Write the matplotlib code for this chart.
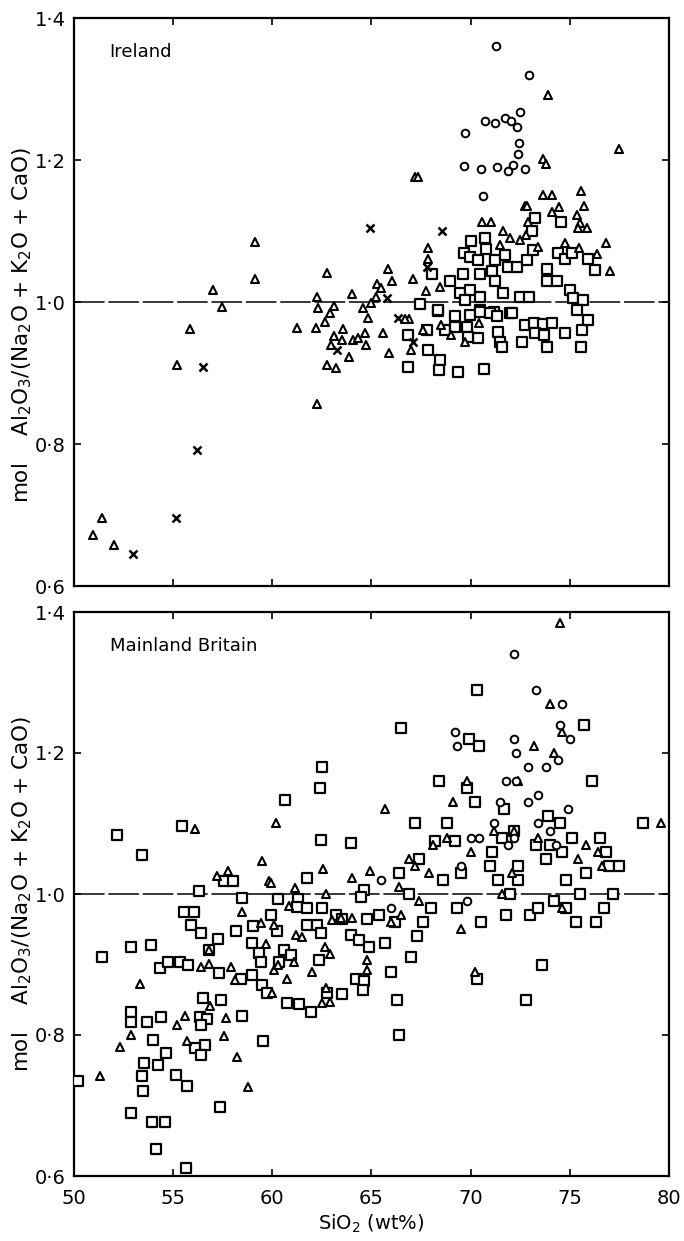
import matplotlib.pyplot as plt
from matplotlib.markers import MarkerStyle

# ---- Ireland ----
ire_tri_x = [62.74, 57.0, 59.13, 59.13, 57.45, 55.85, 55.18, 62.27, 51.40, 50.97, 52.03,
             61.23, 62.19, 62.27, 62.28, 63.11, 62.91, 62.66, 63.58, 63.11, 62.94, 63.50, 62.74,
             63.21, 63.85, 64.04, 64.09, 64.3, 64.67, 64.72, 64.59, 64.84, 64.96, 65.23, 65.26,
             73.88, 77.50, 73.66, 73.80, 67.2, 67.33, 73.66, 74.09, 75.56, 75.72, 72.74, 72.83,
             74.45, 74.12, 75.35, 70.56, 71.03, 75.51, 75.43, 75.88, 72.91, 71.65, 71.98, 72.49,
             72.77, 67.87, 67.83, 65.85, 66.02, 67.08, 68.46, 67.75, 76.81, 77.03, 76.35, 75.48,
             74.76, 73.41, 71.48, 65.5, 65.6, 65.9, 67.0, 67.6, 68.5, 69.0, 69.7, 70.4, 66.9, 66.7]
ire_tri_y = [1.041, 1.017, 1.032, 1.085, 0.993, 0.962, 0.911, 0.856, 0.696, 0.672, 0.658,
             0.964, 0.963, 1.007, 0.991, 0.994, 0.984, 0.972, 0.962, 0.952, 0.940, 0.946, 0.911,
             0.907, 0.922, 1.011, 0.946, 0.950, 0.957, 0.939, 0.991, 0.977, 0.998, 1.007, 1.026,
             1.292, 1.216, 1.202, 1.194, 1.176, 1.176, 1.151, 1.151, 1.157, 1.135, 1.135, 1.135,
             1.134, 1.127, 1.123, 1.113, 1.113, 1.111, 1.104, 1.104, 1.112, 1.100, 1.090, 1.087,
             1.094, 1.076, 1.060, 1.046, 1.030, 1.033, 1.021, 1.015, 1.083, 1.044, 1.068, 1.076,
             1.083, 1.078, 1.080, 1.020, 0.957, 0.928, 0.933, 0.960, 0.967, 0.953, 0.943, 0.970, 0.976, 0.976]

ire_sq_x = [73.24, 73.08, 74.54, 70.02, 70.72, 69.67, 69.97, 70.77, 70.39, 71.23, 69.63, 70.47,
            68.96, 68.04, 71.06, 71.23, 71.90, 72.32, 72.82, 71.73, 73.16, 74.42, 74.76, 75.09,
            75.93, 76.27, 73.83, 73.83, 74.34, 75.01, 75.18, 75.68, 75.35, 69.46, 69.97, 70.47,
            69.72, 71.65, 72.49, 72.96, 67.45, 68.37, 70.47, 71.19, 71.98,
            68.37, 69.21, 69.97, 70.47, 70.98, 71.31, 72.07, 72.74, 73.19, 73.66, 74.09, 73.24,
            73.72, 74.76, 75.60, 75.93, 66.86, 67.78, 68.71, 69.21, 69.83, 70.39, 69.88, 71.40,
            71.48, 71.56, 72.57, 73.83, 75.56, 67.87, 66.86, 68.46, 68.42, 69.38, 70.67]
ire_sq_y = [1.119, 1.100, 1.112, 1.086, 1.090, 1.069, 1.064, 1.075, 1.059, 1.059, 1.040, 1.040,
            1.030, 1.040, 1.043, 1.029, 1.050, 1.050, 1.059, 1.066, 1.073, 1.069, 1.061, 1.069,
            1.061, 1.045, 1.047, 1.029, 1.029, 1.017, 1.005, 1.003, 0.989, 1.012, 1.017, 1.007,
            1.003, 1.012, 1.007, 1.007, 0.997, 0.988, 0.989, 0.986, 0.984,
            0.989, 0.980, 0.982, 0.986, 0.984, 0.980, 0.984, 0.968, 0.970, 0.969, 0.970, 0.956,
            0.953, 0.957, 0.961, 0.975, 0.953, 0.960, 0.960, 0.965, 0.965, 0.949, 0.951, 0.958,
            0.944, 0.937, 0.944, 0.937, 0.936, 0.933, 0.909, 0.918, 0.904, 0.902, 0.906]

ire_circ_x = [71.3, 72.94, 72.49, 70.72, 71.23, 71.73, 72.02, 72.35, 69.72, 72.46, 72.40,
              69.67, 70.51, 71.35, 71.87, 72.12, 72.76, 70.64]
ire_circ_y = [1.36, 1.320, 1.268, 1.255, 1.252, 1.259, 1.255, 1.247, 1.238, 1.224, 1.208,
              1.191, 1.187, 1.190, 1.184, 1.193, 1.187, 1.149]

ire_x_x = [56.52, 56.22, 55.14, 52.99, 63.28, 64.93, 68.57, 67.82, 65.77, 66.35, 67.1]
ire_x_y = [0.909, 0.792, 0.696, 0.645, 0.932, 1.104, 1.100, 1.049, 1.005, 0.977, 0.943]

# ---- Mainland Britain ----
gb_sq_x = [52.15, 55.46, 53.41, 62.47, 63.95, 60.62, 61.76, 57.56, 58.03, 56.30,
           58.49, 60.29, 61.29, 61.26, 61.76, 62.52, 63.19, 63.53, 64.62, 64.45,
           64.79, 55.55, 56.05, 55.92, 56.39, 57.26, 56.81, 58.15, 59.03, 59.92,
           60.25, 58.99, 59.33, 59.41, 60.59, 60.92, 61.76, 62.27, 62.44, 62.35,
           63.95, 64.37, 64.87, 64.20, 64.62, 64.59, 52.89, 53.90, 51.39, 54.34,
           54.74, 55.34, 55.75, 57.31, 58.40, 58.99, 59.50, 59.75, 60.34, 60.76,
           61.34, 61.97, 63.53, 62.77, 56.52, 57.39, 58.49, 59.55, 52.89, 52.89,
           53.70, 54.40, 56.35, 56.72, 56.42, 53.98, 54.62, 56.59, 56.08, 56.42,
           53.53, 54.24, 53.45, 55.13, 55.68, 53.50, 50.20, 57.34, 52.89, 53.92,
           54.57, 54.12, 55.63, 62.5, 62.4,
           65.4, 65.7, 66.0, 66.2, 66.3, 66.4, 66.5, 66.4, 66.9, 67.0,
           67.2, 67.4, 67.6, 67.3, 68.0, 68.2, 68.4, 68.6, 68.8, 69.2,
           69.3, 69.5, 69.8, 69.9, 70.3, 70.4, 70.2, 70.5, 70.3, 71.0,
           71.1, 71.4, 71.6, 71.7, 71.8, 72.0, 72.2, 72.4, 72.4, 72.8,
           73.0, 73.3, 73.4, 73.6, 73.8, 73.9, 74.0, 74.2, 74.5, 74.6,
           74.8, 74.8, 75.1, 75.3, 75.5, 75.7, 75.8, 76.1, 76.3, 76.5,
           76.7, 76.8, 77.0, 77.2, 77.5, 78.7]
gb_sq_y = [1.084, 1.096, 1.055, 1.076, 1.073, 1.133, 1.023, 1.018, 1.018, 1.004,
           0.995, 0.993, 0.993, 0.982, 0.980, 0.980, 0.970, 0.965, 1.006, 0.996,
           0.965, 0.974, 0.974, 0.956, 0.944, 0.936, 0.921, 0.947, 0.955, 0.970,
           0.947, 0.930, 0.916, 0.903, 0.921, 0.913, 0.956, 0.956, 0.944, 0.907,
           0.942, 0.935, 0.925, 0.880, 0.876, 0.864, 0.925, 0.928, 0.910, 0.895,
           0.903, 0.903, 0.899, 0.888, 0.879, 0.885, 0.871, 0.860, 0.903, 0.846,
           0.844, 0.832, 0.858, 0.860, 0.852, 0.849, 0.827, 0.791, 0.832, 0.819,
           0.818, 0.825, 0.825, 0.823, 0.814, 0.793, 0.774, 0.786, 0.781, 0.772,
           0.760, 0.757, 0.742, 0.743, 0.727, 0.720, 0.735, 0.698, 0.690, 0.677,
           0.677, 0.638, 0.612, 1.18, 1.15,
           0.97, 0.93, 0.89, 0.96, 0.85, 0.80, 1.235, 1.03, 1.00, 0.91,
           1.10, 1.05, 0.96, 0.94, 0.98, 1.075, 1.16, 1.02, 1.10, 1.075,
           0.98, 1.03, 1.15, 1.22, 1.29, 1.21, 1.13, 0.96, 0.88, 1.04,
           1.06, 1.02, 1.08, 1.12, 0.97, 1.00, 1.09, 1.04, 1.02, 0.85,
           0.97, 1.07, 0.98, 0.90, 1.05, 1.11, 1.07, 0.99, 1.10, 1.06,
           1.02, 0.98, 1.08, 0.96, 1.00, 1.24, 1.03, 1.16, 0.96, 1.08,
           0.98, 1.06, 1.04, 1.00, 1.04, 1.10]

gb_tri_x = [56.08, 60.17, 59.46, 62.57, 64.03, 64.92, 57.19, 57.76, 59.83, 59.92,
            61.13, 62.72, 58.49, 59.45, 60.08, 60.84, 61.18, 61.51, 63.03, 63.45,
            64.03, 62.64, 62.91, 59.66, 56.81, 56.42, 56.81, 57.90, 58.12, 60.08,
            60.29, 61.09, 60.76, 62.02, 62.69, 62.52, 62.91, 60.00, 64.79, 64.79,
            53.33, 55.58, 55.21, 56.86, 57.68, 57.56, 52.89, 55.68, 52.30, 58.24,
            51.31, 58.77,
            65.7, 66.0, 66.4, 66.5, 66.9, 67.2, 67.4, 67.9, 68.1, 68.8,
            69.1, 69.8, 70.0, 70.2, 71.2, 71.6, 72.1, 72.2, 72.4, 73.2,
            73.4, 74.0, 74.2, 74.6, 74.5, 74.6, 75.4, 75.8, 76.4, 76.6,
            79.6, 69.5]
gb_tri_y = [1.092, 1.100, 1.047, 1.036, 1.023, 1.032, 1.026, 1.033, 1.018, 1.015,
            1.009, 1.000, 0.974, 0.959, 0.956, 0.983, 0.942, 0.939, 0.963, 0.966,
            0.966, 0.925, 0.915, 0.929, 0.921, 0.897, 0.901, 0.897, 0.878, 0.892,
            0.899, 0.904, 0.880, 0.890, 0.866, 0.845, 0.847, 0.860, 0.906, 0.892,
            0.873, 0.827, 0.814, 0.841, 0.824, 0.798, 0.800, 0.791, 0.783, 0.769,
            0.742, 0.726,
            1.12, 0.96, 1.01, 0.97, 1.05, 1.04, 0.99, 1.03, 1.07, 1.08,
            1.13, 1.16, 1.06, 0.89, 1.09, 1.00, 1.03, 1.09, 1.16, 1.21,
            1.08, 1.27, 1.20, 1.23, 1.385, 0.98, 1.05, 1.07, 1.06, 1.04,
            1.10, 0.95]

gb_circ_x = [72.2, 73.3, 74.6, 69.2, 69.3, 72.2, 72.3, 72.9, 73.8, 74.5, 75.0, 71.8, 72.3,
             73.4, 71.5, 71.2, 70.4, 70.0, 72.2, 72.9, 73.4, 74.0, 74.4, 74.9, 74.3, 71.9, 69.5,
             69.8, 65.5, 66.0]
gb_circ_y = [1.34, 1.29, 1.27, 1.23, 1.21, 1.22, 1.20, 1.18, 1.18, 1.24, 1.22, 1.16, 1.16,
             1.14, 1.13, 1.10, 1.08, 1.08, 1.08, 1.13, 1.10, 1.09, 1.19, 1.12, 1.07, 1.07, 1.04,
             0.99, 1.02, 0.98]

yticks = [0.6, 0.8, 1.0, 1.2, 1.4]
xticks = [50, 55, 60, 65, 70, 75, 80]

W, H = 684, 1241
fig = plt.figure(figsize=(W / 100, H / 100), dpi=100)
ax_top = fig.add_axes([74 / W, 1 - 586 / H, 595 / W, 568 / H])
ax_bot = fig.add_axes([74 / W, 1 - 1176 / H, 595 / W, 564 / H])

mk = dict(linestyle='none', markerfacecolor='white', markeredgecolor='black', zorder=3)
SQ = MarkerStyle('s', joinstyle='round')
TRI = MarkerStyle('^', joinstyle='round')


def draw_panel(ax, name, series, label_y):
    ax.axhline(1.0, color='black', lw=1.1, dashes=(20, 2.5), zorder=1)
    for xs, ys, m, ms, mew in series:
        ax.plot(xs, ys, marker=m, markersize=ms, markeredgewidth=mew, **mk)
    ax.set_xlim(50, 80)
    ax.set_ylim(0.6, 1.4)
    ax.set_xticks(xticks)
    ax.set_yticks(yticks)
    ax.set_yticklabels([f"{v:.1f}".replace('.', '·') for v in yticks])
    ax.tick_params(direction='in', top=True, right=True, length=5, width=1.2,
                   labelsize=14, pad=6)
    ax.tick_params(axis='x', pad=9)
    for s in ax.spines.values():
        s.set_linewidth(1.6)
    ax.text(0.06, 0.94, name, transform=ax.transAxes, fontsize=13, va='center')
    ax.set_ylabel("mol    Al$_2$O$_3$/(Na$_2$O + K$_2$O + CaO)", fontsize=15.5)
    ax.yaxis.set_label_coords(-0.068, label_y)


draw_panel(ax_top, "Ireland", [
    (ire_sq_x, ire_sq_y, SQ, 7, 1.6),
    (ire_tri_x, ire_tri_y, TRI, 6, 1.5),
    (ire_circ_x, ire_circ_y, 'o', 5.5, 1.4),
    (ire_x_x, ire_x_y, 'x', 5.5, 1.8),
], 0.46)
ax_top.set_xticklabels([])

draw_panel(ax_bot, "Mainland Britain", [
    (gb_sq_x, gb_sq_y, SQ, 7, 1.6),
    (gb_tri_x, gb_tri_y, TRI, 6, 1.5),
    (gb_circ_x, gb_circ_y, 'o', 5.5, 1.4),
], 0.50)
ax_bot.set_xticklabels([str(v) for v in xticks])
ax_bot.set_xlabel("SiO$_2$ (wt%)", fontsize=14, labelpad=4)

fig.savefig("out.png", dpi=100)
